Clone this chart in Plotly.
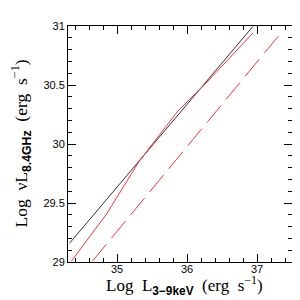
import plotly.graph_objects as go

# black solid line
black_x = [34.324, 36.943]
black_y = [29.16, 30.997]
# red solid curve
red_x = [34.347, 34.847, 35.324, 35.62, 35.871, 36.253, 36.943]
red_y = [29.006, 29.403, 29.86, 30.09, 30.28, 30.504, 30.941]
# red dashed line
dash_x = [34.647, 37.347]
dash_y = [29.006, 30.944]

x_ticks = [35, 36, 37]
y_ticks = [29, 29.5, 30, 30.5, 31]

fig = go.Figure()
fig.add_trace(go.Scatter(x=black_x, y=black_y, mode="lines",
                         line=dict(color="#333333", width=1)))
fig.add_trace(go.Scatter(x=red_x, y=red_y, mode="lines",
                         line=dict(color="#ff3333", width=1)))
fig.add_trace(go.Scatter(x=dash_x, y=dash_y, mode="lines",
                         line=dict(color="#ff3333", width=1, dash="22px,8px")))

axis_common = dict(
    showgrid=False, zeroline=False, showline=True, linecolor="black", linewidth=1,
    mirror="allticks", ticks="inside", ticklen=8, tickcolor="black", tickwidth=1,
    tickfont=dict(family="Liberation Sans, Arial", size=11, color="black"),
)

sub = '<span style="font-family:Liberation Sans;font-weight:bold">'
fig.update_layout(
    width=300, height=300,
    margin=dict(l=60, r=16, t=16, b=46),
    paper_bgcolor="white", plot_bgcolor="white",
    showlegend=False,
    xaxis=dict(range=[34.3, 37.5], tickvals=x_ticks, ticktext=[str(v) for v in x_ticks],
               minor=dict(dtick=0.2, ticks="inside", ticklen=4, tickcolor="black"),
               ticklabelstandoff=-3,
               **axis_common),
    yaxis=dict(range=[29, 31], tickvals=y_ticks, ticktext=["29", "29.5", "30", "30.5", "31"],
               minor=dict(dtick=0.1, ticks="inside", ticklen=4, tickcolor="black"),
               **axis_common),
    annotations=[
        dict(text="Log  L<sub>" + sub + "3−9keV</span></sub>  (erg  s<sup>−1</sup>)",
             xref="paper", yref="paper", x=0.52, y=-0.10, xanchor="center", yanchor="middle",
             showarrow=False, font=dict(family="Liberation Serif", size=17, color="black")),
        dict(text="Log  νL<sub>" + sub + "8.4GHz</span></sub>  (erg  s<sup>−1</sup>)",
             xref="paper", yref="paper", x=-0.212, y=0.50, xanchor="center", yanchor="middle",
             textangle=-90, showarrow=False,
             font=dict(family="Liberation Serif", size=17.5, color="black")),
    ],
)

fig.write_html("out.html")
